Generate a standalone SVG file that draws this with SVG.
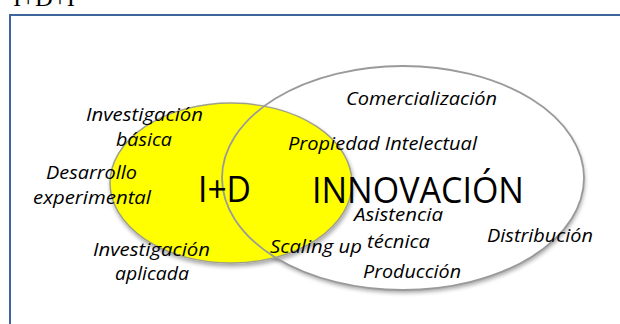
<svg xmlns="http://www.w3.org/2000/svg" width="620" height="324" viewBox="0 0 620 324">
<defs>
<style>
.lbl{font-family:"Open Sans","Liberation Sans",sans-serif;font-style:italic;font-size:17.5px;font-weight:500;fill:#000}
.big{font-family:"Open Sans","Liberation Sans",sans-serif;font-size:37px;fill:#000}
</style>
<filter id="sh" x="-10%" y="-10%" width="120%" height="130%">
<feGaussianBlur in="SourceAlpha" stdDeviation="2"/>
<feOffset dx="1" dy="3" result="b"/>
<feComponentTransfer><feFuncA type="linear" slope="0.35"/></feComponentTransfer>
<feMerge><feMergeNode/><feMergeNode in="SourceGraphic"/></feMerge>
</filter>
</defs>
<rect width="620" height="324" fill="#fff"/>
<text x="13" y="6" font-family="Liberation Serif,serif" font-size="24" textLength="62" lengthAdjust="spacingAndGlyphs">I+D+I</text>
<rect x="9.5" y="14.5" width="620" height="330" fill="none" stroke="#dcdcdc" stroke-width="1"/>
<rect x="10" y="15" width="620" height="330" fill="none" stroke="#3e669c" stroke-width="2"/>

<g id="innovacion-bg">
<ellipse cx="403" cy="178" rx="181" ry="112" fill="#fff" filter="url(#sh)"/>
</g>
<g id="id-circle">
<ellipse cx="231" cy="183" rx="121" ry="80" fill="#ffff00" stroke="#a0a08a" stroke-width="1.5" filter="url(#sh)"/>
</g>
<g id="innovacion-outline">
<ellipse cx="403" cy="178" rx="181" ry="112" fill="none" stroke="#9a9a9a" stroke-width="1.8"/>
</g>

<g id="labels-id">
<text class="lbl" x="86" y="121" textLength="117" lengthAdjust="spacingAndGlyphs">Investigación</text>
<text class="lbl" x="116" y="146" textLength="56" lengthAdjust="spacingAndGlyphs">básica</text>
<text class="lbl" x="46" y="179" textLength="91" lengthAdjust="spacingAndGlyphs">Desarrollo</text>
<text class="lbl" x="33" y="204" textLength="118" lengthAdjust="spacingAndGlyphs">experimental</text>
<text class="lbl" x="93" y="256" textLength="117" lengthAdjust="spacingAndGlyphs">Investigación</text>
<text class="lbl" x="115" y="280" textLength="74" lengthAdjust="spacingAndGlyphs">aplicada</text>
</g>
<g id="label-id-title">
<text class="big" x="198" y="202" textLength="53" lengthAdjust="spacingAndGlyphs">I+D</text>
</g>
<g id="label-innovacion-title">
<text class="big" x="312" y="203" textLength="212" lengthAdjust="spacingAndGlyphs">INNOVACIÓN</text>
</g>
<g id="labels-innovacion">
<text class="lbl" x="346" y="105" textLength="151" lengthAdjust="spacingAndGlyphs">Comercialización</text>
<text class="lbl" x="288" y="150" textLength="189" lengthAdjust="spacingAndGlyphs">Propiedad Intelectual</text>
<text class="lbl" x="354" y="221" textLength="89" lengthAdjust="spacingAndGlyphs">Asistencia</text>
<text class="lbl" x="367" y="248" textLength="63" lengthAdjust="spacingAndGlyphs">técnica</text>
<text class="lbl" x="270" y="253" textLength="92" lengthAdjust="spacingAndGlyphs">Scaling up</text>
<text class="lbl" x="487" y="242" textLength="106" lengthAdjust="spacingAndGlyphs">Distribución</text>
<text class="lbl" x="363" y="278" textLength="98" lengthAdjust="spacingAndGlyphs">Producción</text>
</g>
</svg>
